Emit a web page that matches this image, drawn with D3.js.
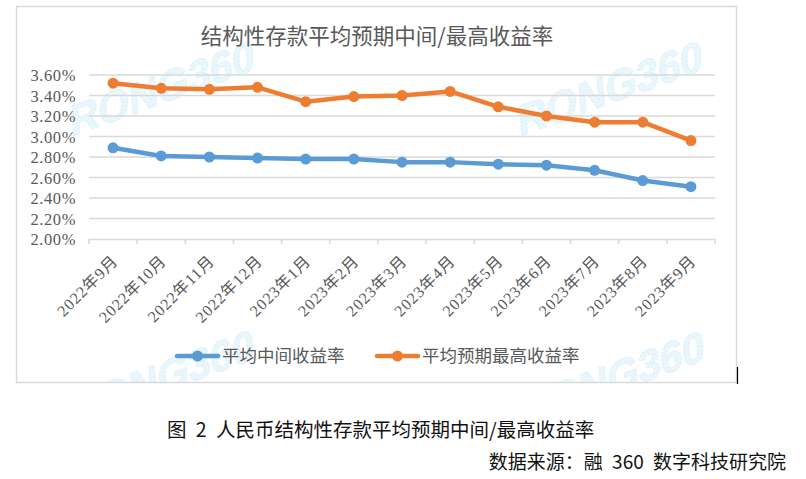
<!DOCTYPE html>
<html>
<head>
<meta charset="utf-8">
<script src="https://cdn.jsdelivr.net/npm/d3@7"></script>
<style>
html,body{margin:0;padding:0;background:#fff;}
svg{display:block;}
</style>
</head>
<body>
<svg id="chart" width="806" height="479"></svg>
<script>
const categories = ["2022年9月","2022年10月","2022年11月","2022年12月","2023年1月","2023年2月","2023年3月","2023年4月","2023年5月","2023年6月","2023年7月","2023年8月","2023年9月"];
const midYield = [2.89,2.81,2.80,2.79,2.78,2.78,2.75,2.75,2.73,2.72,2.67,2.57,2.51];
const maxYield = [3.52,3.47,3.46,3.48,3.34,3.39,3.40,3.44,3.29,3.20,3.14,3.14,2.96];
const yTicks = [2.0,2.2,2.4,2.6,2.8,3.0,3.2,3.4,3.6];
const seriesNames = ["平均中间收益率","平均预期最高收益率"];
const seriesColors = ["#5b9bd5","#ed7d31"];
const titleText = "结构性存款平均预期中间/最高收益率";
const captionText = "图 2 人民币结构性存款平均预期中间/最高收益率";
const sourceText = "数据来源：融 360 数字科技研究院";
const watermarkText = "RONG360";

const svg = d3.select("#chart");
const box = {x:16.5, y:6.5, w:720, h:376};
const plot = {l:89, r:715, t:75, b:239};
const grey = "#595959";
const serifFont = "'Liberation Serif','Noto Sans CJK SC',serif";
const cjkFont = "'Noto Sans CJK SC',sans-serif";

// clip for watermarks
svg.append("defs").append("clipPath").attr("id","boxclip")
  .append("rect").attr("x",box.x).attr("y",box.y).attr("width",box.w).attr("height",box.h);

// watermarks
const wm = svg.append("g").attr("clip-path","url(#boxclip)");
[[162,88],[610,88],[162,377],[612,378]].forEach(([cx,cy])=>{
  wm.append("text")
    .attr("transform",`translate(${cx},${cy}) rotate(-20) skewX(-16)`)
    .attr("text-anchor","middle").attr("dominant-baseline","central")
    .attr("font-family","'Liberation Sans',Arial,sans-serif")
    .attr("font-weight","bold").attr("font-size",42)
    .attr("fill","#e9f7fd").attr("stroke","#d6f0fb").attr("stroke-width",1)
    .attr("stroke-dasharray","2,1.5")
    .text(watermarkText);
});

// chart border
svg.append("rect").attr("x",box.x).attr("y",box.y).attr("width",box.w).attr("height",box.h)
  .attr("fill","none").attr("stroke","#d9d9d9").attr("stroke-width",1.5);
svg.append("line").attr("x1",737.5).attr("x2",737.5).attr("y1",367).attr("y2",384)
  .attr("stroke","#000").attr("stroke-width",1.2);

const x = d3.scaleBand().domain(categories).range([plot.l, plot.r]);
const y = d3.scaleLinear().domain([2.0,3.6]).range([plot.b, plot.t]);

// gridlines
svg.append("g").selectAll("line").data(yTicks.filter(d=>d>2.0)).join("line")
  .attr("x1",plot.l).attr("x2",plot.r)
  .attr("y1",d=>y(d)).attr("y2",d=>y(d))
  .attr("stroke","#d9d9d9").attr("stroke-width",1.5);

// y axis labels
const yAxis = d3.axisLeft(y).tickValues(yTicks).tickSize(0).tickPadding(0)
  .tickFormat(d=>d3.format(".2f")(d)+"%");
const gy = svg.append("g").attr("transform",`translate(76,0)`).call(yAxis);
gy.select(".domain").remove();
gy.selectAll("text").attr("font-family",serifFont).attr("font-size",16.5)
  .attr("letter-spacing","0.6px").attr("fill",grey).attr("dy","0.34em");

// x axis
const xAxis = d3.axisBottom(x).tickSize(0).tickFormat(d=>d);
const gx = svg.append("g").attr("transform",`translate(0,${plot.b})`).call(xAxis);
gx.select(".domain").attr("stroke","#d9d9d9").attr("stroke-width",1.5);
gx.selectAll(".tick text")
  .attr("font-family",serifFont).attr("font-size",16).attr("fill",grey)
  .attr("letter-spacing","0.9px")
  .attr("text-anchor","end").attr("dy",0).attr("y",0)
  .attr("transform","translate(6,23) rotate(-45)");
// boundary ticks
const bounds = categories.map(c=>x(c)).concat([plot.r]);
gx.append("g").selectAll("line").data(bounds).join("line")
  .attr("x1",d=>d).attr("x2",d=>d).attr("y1",0).attr("y2",5)
  .attr("stroke","#d9d9d9").attr("stroke-width",1.5);

// series
const series = [midYield, maxYield];
const line = d3.line().x((d,i)=>x(categories[i])+x.bandwidth()/2).y(d=>y(d));
series.forEach((vals,si)=>{
  const g = svg.append("g");
  g.append("path").datum(vals).attr("d",line).attr("fill","none")
    .attr("stroke",seriesColors[si]).attr("stroke-width",4.5)
    .attr("stroke-linejoin","round").attr("stroke-linecap","round");
  g.selectAll("circle").data(vals).join("circle")
    .attr("cx",(d,i)=>x(categories[i])+x.bandwidth()/2).attr("cy",d=>y(d))
    .attr("r",5.5).attr("fill",seriesColors[si]);
});

// title
svg.append("text").attr("x",377).attr("y",44).attr("text-anchor","middle")
  .attr("font-family",cjkFont).attr("font-size",21.5).attr("fill",grey).text(titleText);

// legend
const legendX = [177, 377];
seriesNames.forEach((n,i)=>{
  const g = svg.append("g").attr("transform",`translate(${legendX[i]},356)`);
  g.append("line").attr("x1",0).attr("x2",41).attr("y1",0).attr("y2",0)
    .attr("stroke",seriesColors[i]).attr("stroke-width",4.5).attr("stroke-linecap","round");
  g.append("circle").attr("cx",20.5).attr("cy",0).attr("r",5.5).attr("fill",seriesColors[i]);
  g.append("text").attr("x",45).attr("y",0).attr("dy","0.36em")
    .attr("font-family",cjkFont).attr("font-size",17.5).attr("fill",grey).text(n);
});

// caption and source
svg.append("text").attr("x",167).attr("y",437).attr("font-family",cjkFont)
  .attr("font-size",19.5).attr("word-spacing","5px").attr("fill","#111").text(captionText);
svg.append("text").attr("x",786).attr("y",469).attr("text-anchor","end").attr("font-family",cjkFont)
  .attr("font-size",19).attr("word-spacing","5px").attr("fill","#111").text(sourceText);
</script>
</body>
</html>
